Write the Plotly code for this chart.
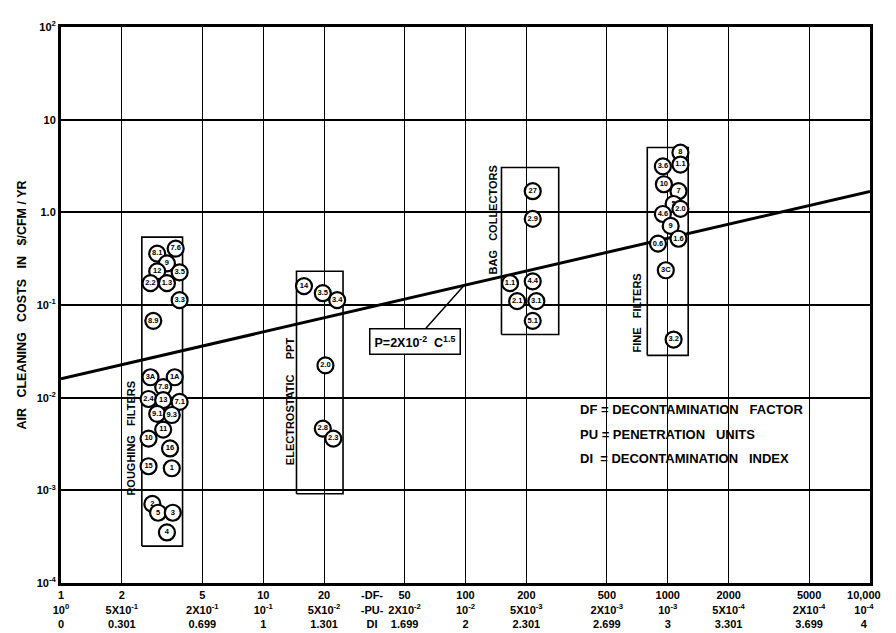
import numpy as np
import plotly.graph_objects as go

# ---------------- data ----------------
# Roughing filters
rough_df = [2.99, 3.69, 3.34, 2.99, 3.86, 2.77, 3.34, 3.86, 2.86,
            2.77, 3.65, 3.20, 2.71, 3.20, 3.86, 2.99, 3.53, 3.20, 2.71,
            3.46, 2.71, 3.53, 2.83, 3.02, 3.57, 3.34]
rough_cost = [0.359, 0.406, 0.281, 0.231, 0.225, 0.172, 0.172, 0.113, 0.0675,
              0.0166, 0.0166, 0.0130, 0.00968, 0.0094, 0.0090, 0.0067, 0.0065,
              0.00452, 0.00362, 0.00283, 0.00182, 0.00173, 0.000714, 0.000573,
              0.000573, 0.000351]
rough_lab = ["8.1", "7.6", "9", "12", "3.5", "2.2", "1.3", "3.3", "8.9",
             "3A", "1A", "7.8", "2.4", "13", "7.1", "9.1", "9.3", "11", "10",
             "16", "15", "1", "2", "5", "3", "4"]

# Electrostatic precipitators
elec_df = [15.9, 19.7, 23.2, 20.3, 19.7, 22.2]
elec_cost = [0.160, 0.134, 0.113, 0.0223, 0.00464, 0.00362]
elec_lab = ["14", "3.5", "3.4", "2.0", "2.8", "2.3"]

# Bag collectors
bag_df = [215, 215, 166, 215, 180, 224, 215]
bag_cost = [1.69, 0.849, 0.172, 0.180, 0.110, 0.110, 0.0675]
bag_lab = ["27", "2.9", "1.1", "4.4", "2.1", "3.1", "5.1"]

# Fine filters
fine_df = [1155, 1155, 946, 957, 1130, 1069, 946, 1155, 1034, 895, 1130, 978, 1069]
fine_cost = [4.41, 3.28, 3.13, 2.01, 1.69, 1.23, 0.96, 1.09, 0.714, 0.459, 0.519,
             0.237, 0.0424]
fine_lab = ["8", "1.1", "3.6", "10", "7", "5", "4.6", "2.0", "9", "0.6", "1.6",
            "3C", "3.2"]

# Group boxes (DF range, cost range)
rough_box_df = [2.51, 3.99]
rough_box_cost = [0.00025, 0.54]
elec_box_df = [14.6, 24.8]
elec_box_cost = [0.00092, 0.231]
bag_box_df = [150.6, 289]
bag_box_cost = [0.048, 3.05]
fine_box_df = [792, 1262]
fine_box_cost = [0.0286, 5.0]

# Trend line P = 2x10^-2 C^1.5
trend_df = [1, 10000]
trend_cost = [0.016, 1.68]

# Axis ticks
x_tickvals = [1, 2, 5, 10, 20, 50, 100, 200, 500, 1000, 2000, 5000, 10000]
x_row_df = ["1", "2", "5", "10", "20", "50", "100", "200", "500", "1000",
            "2000", "5000", "10,000"]
x_row_pu = ["10<sup>0</sup>", "5X10<sup>-1</sup>", "2X10<sup>-1</sup>",
            "10<sup>-1</sup>", "5X10<sup>-2</sup>", "2X10<sup>-2</sup>",
            "10<sup>-2</sup>", "5X10<sup>-3</sup>", "2X10<sup>-3</sup>",
            "10<sup>-3</sup>", "5X10<sup>-4</sup>", "2X10<sup>-4</sup>",
            "10<sup>-4</sup>"]
x_row_di = ["0", "0.301", "0.699", "1", "1.301", "1.699", "2", "2.301",
            "2.699", "3", "3.301", "3.699", "4"]
y_tickvals = [1e-4, 1e-3, 1e-2, 1e-1, 1, 10, 100]
y_ticktext = ["10<sup>-4</sup>", "10<sup>-3</sup>", "10<sup>-2</sup>",
              "10<sup>-1</sup>", "1.0", "10", "10<sup>2</sup>"]
key_df = [34.5]
key_text = ["-DF-<br>-PU-<br>DI"]

FONT = "Liberation Sans"
fig = go.Figure()


def box(xr, yr):
    return go.Scatter(x=[xr[0], xr[1], xr[1], xr[0], xr[0]],
                      y=[yr[0], yr[0], yr[1], yr[1], yr[0]],
                      mode="lines", line=dict(color="black", width=1.6),
                      hoverinfo="skip", showlegend=False)


for bx, by in [(rough_box_df, rough_box_cost), (elec_box_df, elec_box_cost),
               (bag_box_df, bag_box_cost), (fine_box_df, fine_box_cost)]:
    fig.add_trace(box(bx, by))

fig.add_trace(go.Scatter(x=trend_df, y=trend_cost, mode="lines",
                         line=dict(color="black", width=3),
                         hoverinfo="skip", showlegend=False))

for xs, ys, ls in [(rough_df, rough_cost, rough_lab), (elec_df, elec_cost, elec_lab),
                   (bag_df, bag_cost, bag_lab), (fine_df, fine_cost, fine_lab)]:
    fig.add_trace(go.Scatter(
        x=xs, y=ys, text=ls, mode="markers+text", textposition="middle center",
        marker=dict(symbol="circle", size=16, color="white",
                    line=dict(color="black", width=2.2)),
        textfont=dict(family=FONT, size=7.5, color="black", weight="bold"),
        showlegend=False))

# dummy trace for the key axis
fig.add_trace(go.Scatter(x=key_df, y=[1e-3], xaxis="x2", mode="markers",
                         marker=dict(opacity=0), hoverinfo="skip", showlegend=False))

annots = []
for txt, xd, yd in [("ROUGHING   FILTERS", 2.22, 0.00362),
                    ("ELECTROSTATIC     PPT", 13.6, 0.00923),
                    ("BAG   COLLECTORS", 136, 0.828),
                    ("FINE   FILTERS", 702, 0.0822)]:
    annots.append(dict(x=np.log10(xd), y=np.log10(yd), xref="x", yref="y",
                       text=txt, textangle=-90, showarrow=False,
                       font=dict(family=FONT, size=11, color="black", weight="bold")))

annots.append(dict(x=np.log10(97.8), y=np.log10(0.160), xref="x", yref="y",
                   ax=-49, ay=55, showarrow=True, arrowhead=0, arrowwidth=1.5,
                   arrowcolor="black",
                   text="P=2X10<sup>-2</sup>  C<sup>1.5</sup>",
                   bordercolor="black", borderwidth=1.5, borderpad=4,
                   bgcolor="white",
                   font=dict(family=FONT, size=12.5, color="black", weight="bold")))

for i, t in enumerate(["DF = DECONTAMINATION   FACTOR",
                       "PU = PENETRATION   UNITS",
                       "DI  = DECONTAMINATION   INDEX"]):
    annots.append(dict(x=(585 - 53) / 832, y=(578 - (403 + 24.5 * i)) / 562,
                       xref="paper", yref="paper", xanchor="left", yanchor="middle",
                       text=t, showarrow=False,
                       font=dict(family=FONT, size=13, color="black", weight="bold")))

x_ticktext = [f"{a}<br>{b}<br>{c}" for a, b, c in zip(x_row_df, x_row_pu, x_row_di)]
pad = "&nbsp;" * 4
x_ticktext[-1] = f"{x_row_df[-1]}{pad}<br>{x_row_pu[-1]}{pad}<br>{x_row_di[-1]}{pad}"

fig.update_layout(
    width=896, height=633,
    margin=dict(l=53, r=11, t=16, b=55),
    plot_bgcolor="white", paper_bgcolor="white",
    annotations=annots,
    font=dict(family=FONT, color="black"),
    xaxis=dict(type="log", range=[0, 4], tickmode="array", tickvals=x_tickvals,
               ticktext=x_ticktext,
               showgrid=True, gridcolor="black", gridwidth=1.2,
               showline=True, linecolor="black", linewidth=3, mirror=True,
               ticks="", tickangle=0, zeroline=False, ticklabeloverflow="allow",
               tickfont=dict(family=FONT, size=11, color="black", weight="bold")),
    xaxis2=dict(type="log", range=[0, 4], overlaying="x", side="bottom",
                tickmode="array", tickvals=key_df, ticktext=key_text,
                showgrid=False, showline=True, linecolor="black", linewidth=3,
                ticks="", tickangle=0, zeroline=False,
                tickfont=dict(family=FONT, size=11, color="black", weight="bold")),
    yaxis=dict(type="log", range=[-4, 2], tickmode="array", tickvals=y_tickvals,
               ticktext=y_ticktext, showgrid=True, gridcolor="black", gridwidth=2,
               showline=True, linecolor="black", linewidth=3, mirror=True,
               ticks="", zeroline=False,
               title=dict(text="AIR   CLEANING   COSTS   IN   $/CFM / YR", standoff=8,
                          font=dict(family=FONT, size=12.5, color="black", weight="bold")),
               tickfont=dict(family=FONT, size=11, color="black", weight="bold")),
)

fig.write_html("out.html")
